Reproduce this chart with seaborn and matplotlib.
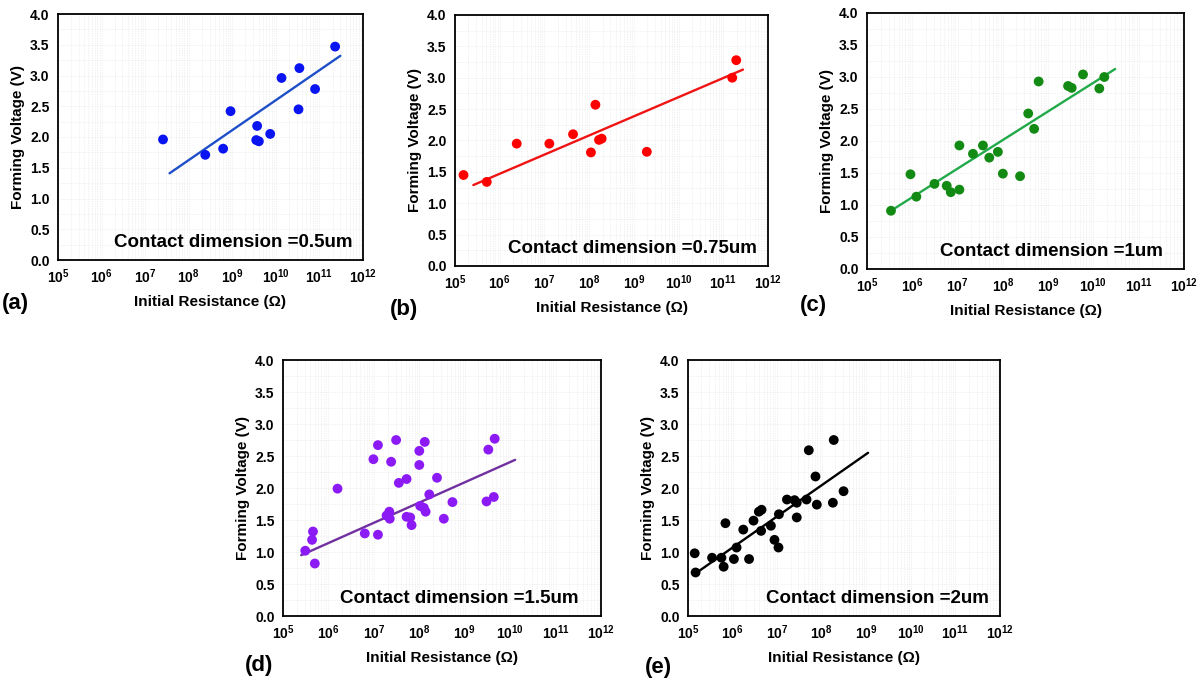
import numpy as np
import pandas as pd
import matplotlib
matplotlib.use("Agg")
import matplotlib.pyplot as plt
import matplotlib.ticker as mticker
import seaborn as sns

# ---- values: log10(R / ohm) and forming voltage (V) ----
LOGR_A = [7.41, 8.38, 8.79, 8.96, 9.57, 9.55, 9.61, 9.87, 10.13, 10.54, 10.52, 10.90, 11.36]
V_A = [1.96, 1.71, 1.81, 2.42, 2.18, 1.95, 1.93, 2.05, 2.96, 3.12, 2.45, 2.78, 3.47]
FIT_LOGR_A = [7.56, 11.48]
FIT_V_A = [1.41, 3.32]

LOGR_B = [5.19, 5.71, 6.38, 7.11, 7.64, 8.04, 8.14, 8.22, 8.28, 9.29, 11.20, 11.29]
V_B = [1.45, 1.34, 1.95, 1.95, 2.10, 1.81, 2.57, 2.01, 2.03, 1.82, 3.00, 3.28]
FIT_LOGR_B = [5.41, 11.44]
FIT_V_B = [1.29, 3.13]

LOGR_C = [5.53, 5.96, 6.09, 6.49, 6.76, 6.85, 7.04, 7.04, 7.34, 7.56, 7.70,
          7.89, 8.00, 8.38, 8.56, 8.69, 8.79, 9.44, 9.52, 9.77, 10.13, 10.24]
V_C = [0.91, 1.48, 1.13, 1.33, 1.30, 1.20, 1.24, 1.93, 1.80, 1.93, 1.74,
       1.83, 1.49, 1.45, 2.43, 2.19, 2.93, 2.86, 2.83, 3.04, 2.82, 3.00]
FIT_LOGR_C = [5.55, 10.48]
FIT_V_C = [0.92, 3.125]

LOGR_D = [5.49, 5.64, 5.66, 5.70, 6.20, 6.80, 6.99, 7.09, 7.09, 7.28, 7.34,
          7.35, 7.38, 7.49, 7.55, 7.72, 7.72, 7.80, 7.83, 8.00, 8.00, 8.02,
          8.10, 8.12, 8.14, 8.22, 8.39, 8.54, 8.73, 9.48, 9.52, 9.64, 9.66]
V_D = [1.02, 1.19, 1.32, 0.82, 1.99, 1.29, 2.45, 2.67, 1.27, 1.57, 1.63,
       1.52, 2.41, 2.75, 2.08, 2.14, 1.55, 1.54, 1.42, 2.36, 2.58, 1.72,
       1.69, 2.72, 1.63, 1.90, 2.16, 1.52, 1.78, 1.79, 2.60, 1.86, 2.77]
FIT_LOGR_D = [5.40, 10.11]
FIT_V_D = [0.95, 2.44]

LOGR_E = [5.15, 5.17, 5.54, 5.75, 5.80, 5.84, 6.03, 6.09, 6.24, 6.37, 6.47,
          6.59, 6.65, 6.64, 6.86, 6.94, 7.03, 7.04, 7.22, 7.39, 7.44, 7.44,
          7.66, 7.71, 7.86, 7.89, 8.25, 8.27, 8.49]
V_E = [0.98, 0.68, 0.91, 0.91, 0.77, 1.45, 0.89, 1.07, 1.35, 0.89, 1.49,
       1.63, 1.66, 1.33, 1.41, 1.19, 1.07, 1.59, 1.82, 1.81, 1.77, 1.54,
       1.82, 2.59, 2.18, 1.74, 1.77, 2.75, 1.95]
FIT_LOGR_E = [5.20, 9.04]
FIT_V_E = [0.68, 2.55]

LABELS = ["(a)", "(b)", "(c)", "(d)", "(e)"]
DIMENSIONS = ["0.5um", "0.75um", "1um", "1.5um", "2um"]

# ---- styling ----
POINT_COLORS = ["#0A14F0", "#FF0000", "#138A13", "#8C1AF5", "#000000"]
LINE_COLORS = ["#1F4FC8", "#F01414", "#22AA4A", "#7030A0", "#000000"]

W, H = 1202, 679
# axes boxes in pixels: left, top, right, bottom
AX_BOXES = [(58, 14, 363, 260), (455, 15, 768, 266), (867, 13, 1184, 269),
            (283, 360, 601, 616), (688, 360, 1000, 616)]
TEXT_X = [0.967, 0.965, 0.934, 0.93, 0.965]
LABEL_POS = [(2, 303), (390, 310), (800, 306), (245, 665), (645, 667)]

sns.set_style("white")
plt.rcParams["font.family"] = ["Liberation Sans", "DejaVu Sans"]
plt.rcParams["font.weight"] = "bold"
plt.rcParams["text.color"] = "black"
plt.rcParams["axes.labelcolor"] = "black"
plt.rcParams["xtick.color"] = "black"
plt.rcParams["ytick.color"] = "black"
plt.rcParams["mathtext.fontset"] = "custom"
plt.rcParams["mathtext.rm"] = "Liberation Sans:bold"
plt.rcParams["mathtext.bf"] = "Liberation Sans:bold"


def log_fmt(val, pos):
    return r"$10^{%d}$" % int(round(np.log10(val)))


def draw_panel(ax, logr, volts, fit_logr, fit_v, i):
    pts = pd.DataFrame({"R": 10 ** np.array(logr), "V": volts})
    fit = pd.DataFrame({"R": 10 ** np.array(fit_logr), "V": fit_v})
    ax.set_xscale("log")
    sns.scatterplot(data=pts, x="R", y="V", ax=ax, color=POINT_COLORS[i],
                    s=50, edgecolor="none", zorder=3)
    sns.lineplot(data=fit, x="R", y="V", ax=ax, color=LINE_COLORS[i],
                 linewidth=1.7, zorder=2)

    ax.set_xlim(1e5, 1e12)
    ax.set_ylim(0, 4.0)
    ax.xaxis.set_major_locator(mticker.LogLocator(base=10, numticks=12))
    ax.xaxis.set_minor_locator(mticker.LogLocator(base=10, subs=np.arange(2, 10), numticks=12))
    ax.xaxis.set_major_formatter(mticker.FuncFormatter(log_fmt))
    ax.xaxis.set_minor_formatter(mticker.NullFormatter())
    ax.yaxis.set_major_locator(mticker.MultipleLocator(0.5))
    ax.yaxis.set_minor_locator(mticker.MultipleLocator(0.25))
    ax.yaxis.set_major_formatter(mticker.FormatStrFormatter("%.1f"))

    ax.grid(which="both", color="#ececec", linewidth=0.5, linestyle=(0, (2, 1.5)))
    ax.set_axisbelow(True)
    for sp in ax.spines.values():
        sp.set_color("black")
        sp.set_linewidth(1.3)

    ax.tick_params(axis="x", which="major", direction="inout", length=6, width=1.2,
                   labelsize=10, pad=2)
    ax.tick_params(axis="x", which="minor", direction="in", length=3, width=0.9)
    ax.tick_params(axis="y", which="major", direction="out", length=4, width=1.2,
                   labelsize=10, pad=2)
    ax.tick_params(axis="y", which="minor", direction="out", length=2, width=0.9)

    ax.set_xlabel("Initial Resistance (\u03a9)", fontsize=11, fontweight="bold", labelpad=7)
    ax.set_ylabel("Forming Voltage (V)", fontsize=11, fontweight="bold", labelpad=4)
    ax.text(TEXT_X[i], 0.07, "Contact dimension =" + DIMENSIONS[i], transform=ax.transAxes,
            ha="right", va="center", fontsize=13.5, fontweight="bold")


fig = plt.figure(figsize=(W / 100, H / 100), dpi=100)
panel_data = [(LOGR_A, V_A, FIT_LOGR_A, FIT_V_A),
              (LOGR_B, V_B, FIT_LOGR_B, FIT_V_B),
              (LOGR_C, V_C, FIT_LOGR_C, FIT_V_C),
              (LOGR_D, V_D, FIT_LOGR_D, FIT_V_D),
              (LOGR_E, V_E, FIT_LOGR_E, FIT_V_E)]

for i, (logr, volts, flr, fv) in enumerate(panel_data):
    l, t, r, b = AX_BOXES[i]
    ax = fig.add_axes([l / W, 1 - b / H, (r - l) / W, (b - t) / H])
    draw_panel(ax, logr, volts, flr, fv, i)
    lx, ly = LABEL_POS[i]
    fig.text(lx / W, 1 - ly / H, LABELS[i], ha="left", va="center",
             fontsize=16, fontweight="bold")

fig.savefig("out.png", dpi=100)
